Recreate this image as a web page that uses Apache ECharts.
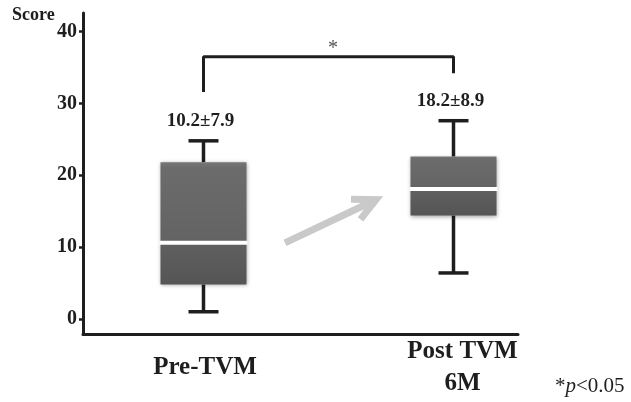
<!DOCTYPE html>
<html>
<head>
<meta charset="utf-8">
<script src="https://cdn.jsdelivr.net/npm/echarts@6/dist/echarts.min.js"></script>
<style>html,body{margin:0;padding:0;background:#fff;}#c{width:631px;height:402px;}</style>
</head>
<body>
<div id="c"></div>
<script>
// ---- data ----
const categories = ['Pre-TVM', 'Post TVM\n6M'];
const positions = [1, 2];
const boxMin = [1.0, 6.4];
const boxQ1 = [4.8, 14.4];
const boxMedian = [10.6, 18.1];
const boxQ3 = [21.8, 22.6];
const boxMax = [24.8, 27.6];
const statLabels = ['10.2±7.9', '18.2±8.9'];
const yTicks = [0, 10, 20, 30, 40];
const bracketX = [1, 1, 2, 2];
const bracketY = [31.6, 36.5, 36.5, 34.2];
const arrowFrom = [1.326, 10.6];
const arrowTo = [1.69, 16.6];
const starPos = [1.518, 37.6];

const SERIF = '"Liberation Serif", "DejaVu Serif", serif';
const INK = '#1e1e1e';

const boxData = positions.map((x, i) => [x, boxMin[i], boxQ1[i], boxMedian[i], boxQ3[i], boxMax[i], i]);

function renderBox(params, api) {
  const x = api.value(0);
  const pMin = api.coord([x, api.value(1)]);
  const pQ1 = api.coord([x, api.value(2)]);
  const pMed = api.coord([x, api.value(3)]);
  const pQ3 = api.coord([x, api.value(4)]);
  const pMax = api.coord([x, api.value(5)]);
  const idx = api.value(6);
  const w = api.size([0.344, 0])[0];
  const cx = pMed[0];
  const cap = 15;
  const lineStyle = { stroke: INK, lineWidth: 3.5 };
  const upperFill = new echarts.graphic.LinearGradient(0, 0, 0, 1, [
    { offset: 0, color: '#767676' }, { offset: 0.06, color: '#6c6c6c' }, { offset: 1, color: '#636363' }
  ]);
  const lowerFill = new echarts.graphic.LinearGradient(0, 0, 0, 1, [
    { offset: 0, color: '#676767' }, { offset: 0.06, color: '#5f5f5f' }, { offset: 1, color: '#555555' }
  ]);
  const shadow = { shadowBlur: 4, shadowColor: 'rgba(0,0,0,0.35)', shadowOffsetY: 1 };
  return {
    type: 'group',
    children: [
      { type: 'line', shape: { x1: cx, y1: pMax[1], x2: cx, y2: pQ3[1] }, style: lineStyle },
      { type: 'line', shape: { x1: cx, y1: pQ1[1], x2: cx, y2: pMin[1] }, style: lineStyle },
      { type: 'line', shape: { x1: cx - cap, y1: pMax[1], x2: cx + cap, y2: pMax[1] }, style: lineStyle },
      { type: 'line', shape: { x1: cx - cap, y1: pMin[1], x2: cx + cap, y2: pMin[1] }, style: lineStyle },
      { type: 'rect', shape: { x: cx - w / 2, y: pQ3[1], width: w, height: pMed[1] - pQ3[1] },
        style: Object.assign({ fill: upperFill }, shadow) },
      { type: 'rect', shape: { x: cx - w / 2, y: pMed[1], width: w, height: pQ1[1] - pMed[1] },
        style: Object.assign({ fill: lowerFill }, shadow) },
      { type: 'line', shape: { x1: cx - w / 2 - 1, y1: pMed[1], x2: cx + w / 2 + 1, y2: pMed[1] },
        style: { stroke: '#ffffff', lineWidth: 4 } },
      { type: 'text', x: cx - 3, y: pMax[1] - 20,
        style: { text: statLabels[idx], fill: INK, font: 'bold 19px ' + SERIF, align: 'center', verticalAlign: 'middle' } }
    ]
  };
}

function renderArrow(params, api) {
  const p1 = api.coord([api.value(0), api.value(1)]);
  const p2 = api.coord([api.value(2), api.value(3)]);
  const ang = Math.atan2(p1[1] - p2[1], p1[0] - p2[0]);
  const L = 25, da = 0.46;
  const b1 = [p2[0] + L * Math.cos(ang + da), p2[1] + L * Math.sin(ang + da)];
  const b2 = [p2[0] + L * Math.cos(ang - da), p2[1] + L * Math.sin(ang - da)];
  const st = { stroke: '#c9c9c9', lineWidth: 7, fill: null, lineJoin: 'miter' };
  return {
    type: 'group',
    children: [
      { type: 'line', shape: { x1: p1[0], y1: p1[1], x2: p2[0] - 3 * Math.cos(ang + Math.PI), y2: p2[1] - 3 * Math.sin(ang + Math.PI) }, style: st },
      { type: 'polyline', shape: { points: [b1, p2, b2] }, style: st }
    ]
  };
}

const chart = echarts.init(document.getElementById('c'), null, { renderer: 'canvas' });
chart.setOption({
  animation: false,
  backgroundColor: '#ffffff',
  grid: { left: 83, right: 113, top: 13, bottom: 68, containLabel: false, outerBoundsMode: 'none' },
  xAxis: {
    type: 'value', min: 0.518, max: 2.258,
    splitLine: { show: false },
    axisTick: { show: false },
    axisLine: { show: true, onZero: false, lineStyle: { color: INK, width: 3 } },
    axisLabel: {
      customValues: positions,
      margin: 34,
      verticalAlign: 'middle',
      color: INK,
      fontFamily: SERIF, fontWeight: 'bold', fontSize: 25, lineHeight: 32,
      formatter: function (v) {
        const i = positions.indexOf(Math.round(v));
        if (i < 0) return '';
        if (i === 1) return categories[i].split('\n').map(s => '{p|' + s + '}').join('\n');
        return '{q|' + categories[i] + '}';
      },
      rich: {
        p: { fontFamily: SERIF, fontWeight: 'bold', fontSize: 25, lineHeight: 32, color: INK, padding: [0, 0, 0, 18] },
        q: { fontFamily: SERIF, fontWeight: 'bold', fontSize: 25, lineHeight: 32, color: INK, padding: [0, 0, 0, 3] }
      }
    }
  },
  yAxis: {
    type: 'value', min: -2.1, max: 42.6,
    splitLine: { show: false },
    axisLine: { show: true, onZero: false, lineStyle: { color: INK, width: 3 } },
    axisTick: { show: true, customValues: yTicks, length: 4, inside: false, lineStyle: { color: INK, width: 2.5 } },
    axisLabel: { customValues: yTicks, margin: 6, color: INK, fontFamily: SERIF, fontWeight: 'bold', fontSize: 20 }
  },
  graphic: [
    { type: 'text', left: 12, top: 6, style: { text: 'Score', fill: INK, font: 'bold 18px ' + SERIF } },
    { type: 'text', left: 555, top: 376, style: {
      text: '{a|*}{b|p}{a|<0.05}',
      rich: {
        a: { fontFamily: SERIF, fontSize: 21, fill: INK, color: INK },
        b: { fontFamily: SERIF, fontSize: 21, fontStyle: 'italic', fill: INK, color: INK }
      }
    } }
  ],
  series: [
    {
      type: 'line',
      data: bracketX.map((x, i) => [x, bracketY[i]]),
      symbol: 'none',
      lineStyle: { color: INK, width: 3 },
      z: 3
    },
    {
      type: 'scatter',
      data: [starPos],
      symbolSize: 0,
      label: { show: true, position: 'inside', formatter: '*', fontFamily: SERIF, fontSize: 20, color: INK }
    },
    {
      type: 'custom',
      renderItem: renderArrow,
      data: [[arrowFrom[0], arrowFrom[1], arrowTo[0], arrowTo[1]]],
      z: 2
    },
    {
      type: 'custom',
      renderItem: renderBox,
      data: boxData,
      encode: { x: 0, y: [1, 2, 3, 4, 5] },
      z: 4
    }
  ]
});
</script>
</body>
</html>
